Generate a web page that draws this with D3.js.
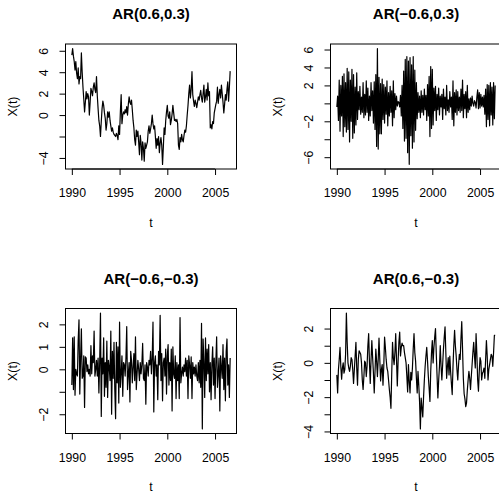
<!DOCTYPE html>
<html>
<head>
<meta charset="utf-8">
<script src="https://cdn.jsdelivr.net/npm/d3@7"></script>
<style>
  body { margin: 0; background: #fff; }
  svg { display: block; font-family: "Liberation Sans", Arial, Helvetica, sans-serif; }
</style>
</head>
<body>
<svg id="chart" width="499" height="493"></svg>
<script>
// monthly series, start Jan 1990
const start_year = 1990
const freq = 12

const titles = ['AR(0.6,0.3)', 'AR(\u22120.6,0.3)', 'AR(\u22120.6,\u22120.3)', 'AR(0.6,\u22120.3)']
const x_ticks = [1990, 1995, 2000, 2005]

// AR(0.6,0.3)
const ar_pos_pos = [
  5.6, 6.2, 5.5, 5.0, 4.2, 5.0, 3.9, 3.4, 4.4, 2.9, 3.6, 3.4,
  5.8, 4.0, 2.6, 1.5, 0.3, 1.2, 2.2, 1.5, 2.0, 1.7, 0.0, 1.2,
  2.5, 2.2, 1.8, 2.6, 3.0, 2.4, 2.1, 3.6, 1.8, 0.6, -0.5, -1.0,
  -2.0, -0.6, 0.6, 1.3, 0.9, 0.2, -0.3, -1.4, -0.8, 0.3, -0.2, 0.3,
  -0.5, -1.0, -1.5, -1.2, -1.6, -1.8, -1.9, -2.0, -1.7, -1.9, -2.3, -1.0,
  -1.8, 0.3, 1.9, -0.8, 0.0, 0.3, 0.1, 0.5, 0.2, 0.8, 0.0, 1.0,
  1.7, 1.2, 1.0, 1.4, 0.5, -0.5, -1.2, -2.3, -2.8, -1.4, -2.0, -1.5,
  -2.5, -3.7, -1.9, -2.6, -4.2, -2.5, -3.1, -4.3, -2.6, -3.1, -2.8, -2.5,
  -1.5, -1.0, -1.7, -1.3, -0.8, 0.0, -0.8, -1.3, -1.0, -2.0, -3.1, -2.2,
  -2.8, -2.0, -3.5, -2.6, -2.1, -2.8, -4.6, -3.0, -1.2, -1.8, -0.5, 0.3,
  0.9, -0.1, -0.3, 0.3, -0.9, -0.5, 0.1, 0.9, 0.2, -0.5, -0.4, -0.6,
  -0.4, -0.8, -2.8, -3.2, -2.1, -2.5, -1.8, -2.3, -2.5, -1.9, -1.4, -1.6,
  -1.0, 0.0, 0.9, 2.0, 2.8, 1.6, 2.4, 4.05, 1.9, 1.3, 0.8, 1.4,
  1.1, 0.7, 1.2, 1.7, 1.4, 1.9, 2.3, 1.6, 1.2, 2.0, 2.8, 1.2,
  1.7, 2.4, 1.4, 3.0, 1.8, 2.2, -1.2, -0.9, -1.3, -0.6, -0.8, 0.2,
  0.6, 1.0, 1.3, 2.6, 1.1, 1.9, 2.4, 1.6, 2.8, 2.0, 1.2, 0.2,
  1.0, 1.9, 1.4, 2.4, 3.1, 1.3, 2.6, 4.1
]

// AR(-0.6,0.3)
const ar_neg_pos = [
  -0.4, 0.8, -1.9, 2.6, -3.1, 2.0, -1.4, 3.0, -3.7, 3.3, -2.6, 2.3,
  -3.2, 3.9, -2.9, 3.5, -4.3, 2.6, -2.0, 3.8, -3.9, 3.2, -3.3, 1.8,
  -2.4, 3.4, -1.8, 1.3, -0.7, 1.9, -1.2, 0.7, -1.0, 2.3, -1.6, 1.0,
  -1.3, 2.5, -1.0, 1.7, -1.9, 0.8, -1.4, 2.3, -0.8, 1.4, -2.2, 2.4,
  -2.9, 3.2, -4.8, 6.1, -5.1, 2.9, -3.4, 2.2, -3.4, 2.7, -1.8, 2.1,
  -2.2, 1.8, -1.2, 2.5, -2.5, 1.2, -1.4, 1.9, -1.0, 1.4, -2.5, 2.5,
  -1.6, 1.1, -0.7, 0.8, -0.3, 0.2, 0.1, -0.4, 0.9, -1.4, 2.0, -2.8,
  3.6, -4.2, 4.9, -3.9, 5.2, -5.5, 4.7, -6.8, 5.1, -3.6, 4.3, -5.0,
  5.2, -4.3, 3.7, -3.0, 2.3, -1.7, 1.2, -1.0, 0.8, -1.6, 1.4, -1.0,
  0.9, -1.3, 1.6, -0.7, 0.9, -1.9, 2.1, -1.4, 3.0, -3.7, 4.1, -2.8,
  3.8, -2.4, 1.7, -0.8, 1.9, -1.9, 1.0, -0.7, 1.7, -1.3, 0.8, -0.4,
  1.0, -1.8, 1.6, -0.6, 0.7, -1.3, 2.0, -0.8, 0.4, -1.0, 1.3, -0.4,
  0.7, -1.8, 2.5, -2.5, 1.2, -1.0, 1.5, -1.3, 1.3, -0.8, 0.7, -1.0,
  1.6, -0.8, 2.6, -1.6, 1.0, -0.6, 1.3, -1.6, 2.0, -1.0, 0.5, -0.7,
  0.6, -0.3, 0.8, 0.0, -0.3, 0.3, 0.1, -0.5, 0.7, 1.5, -0.6, 1.2,
  -0.5, 1.0, -0.3, 0.7, -0.4, 0.9, -1.2, 1.6, -2.6, 2.1, -1.8, 2.0,
  -2.5, 2.3, -1.3, 1.8, -2.4, 2.3, -1.7, 2.0
]

// AR(-0.6,-0.3)
const ar_neg_neg = [
  -0.7, 1.4, -0.9, 1.45, -1.15, 0.0, -0.2, -0.3, 1.3, 2.2, -1.1, 0.5,
  1.8, -0.4, -0.3, 0.6, -1.7, 0.55, 0.5, -0.1, 0.2, -0.2, 0.0, -0.3,
  1.05, -0.2, 0.6, 0.3, 1.7, -0.3, 0.0, 0.4, -0.3, 0.5, -1.05, 0.3,
  2.5, -2.1, 0.5, -0.2, 1.4, -1.2, 0.3, -0.8, 1.25, -1.25, 0.4, 0.1,
  -0.5, 1.7, -2.0, 0.8, -0.4, 1.2, -0.9, -2.2, 1.2, -0.6, 1.0, -1.5,
  2.1, -0.8, -0.2, 0.6, -1.2, 0.3, 0.2, -0.3, 0.5, 1.9, -0.9, -0.2,
  0.3, -1.45, 0.8, 0.4, -0.6, 0.1, 0.7, -0.5, 1.45, -0.9, -0.2, 0.4,
  0.0, -0.5, 0.3, -0.2, 0.2, 1.15, -0.4, -0.5, 0.2, -1.55, 0.3, 0.1,
  -0.3, 0.4, 0.2, 0.8, -0.2, 0.5, 2.1, -1.9, 0.3, 0.6, -0.3, 0.2,
  -1.35, 0.8, 0.2, 2.4, -0.5, 0.7, -1.4, 0.3, 0.5, -0.3, 0.9, -1.1,
  0.6, 1.1, -0.7, 0.3, -0.5, 0.9, -1.85, 1.0, -0.2, -0.4, 0.6, -1.3,
  0.3, -0.5, 0.2, -1.3, 2.3, -0.6, -0.2, 0.1, -0.3, 0.2, -0.1, 0.5,
  -0.3, 0.4, -1.3, 0.6, 0.2, -0.4, 0.55, -1.3, 0.3, -0.2, 0.1, -0.3,
  0.2, -0.3, -0.5, 0.3, -0.6, 0.4, -0.8, 2.05, -2.65, 1.35, 0.3, -1.25,
  1.4, -0.5, 0.9, -0.2, 1.1, -1.0, 0.3, -1.35, 0.2, 1.0, -0.7, 0.5,
  -1.3, 0.3, 1.45, -0.8, -0.2, 0.5, -1.85, 0.6, 0.1, -0.4, 1.1, -0.9,
  0.5, -1.4, 0.8, 1.35, -0.7, 0.2, -1.25, 0.5
]

// AR(0.6,-0.3)
const ar_pos_neg = [
  -0.7, -1.75, -0.4, 0.2, 0.9, -0.2, -0.95, -0.3, 0.0, -0.6, -0.4, 0.5,
  2.9, 1.2, 0.0, -0.3, -0.5, -0.2, 0.3, 0.2, -0.4, -1.2, -0.4, 0.4,
  1.2, -0.3, -1.3, 0.2, 0.7, 0.6, 0.5, 0.0, -1.0, -1.55, -0.8, 0.1,
  0.0, -0.8, -0.2, 1.0, 1.7, 0.0, -1.2, 0.2, 1.3, 0.3, -0.6, -1.75,
  -0.5, 0.8, 0.1, -0.8, 0.2, 1.45, 0.2, -1.05, -0.4, -0.1, -1.3, -0.2,
  1.5, 0.9, 0.2, -0.3, -0.5, -1.0, -1.55, -2.0, -2.65, -0.6, 1.2, 0.3,
  -0.1, 0.6, 1.7, 0.2, -1.35, 0.1, 1.2, 1.8, 0.4, 0.9, 1.15, 1.0,
  1.0, 0.6, 0.3, 0.0, -0.8, -1.7, -0.1, -1.1, -1.75, -0.55, -1.0, -0.3,
  0.8, 1.7, 0.6, 0.1, -0.9, -1.75, -0.5, -1.3, -2.3, -3.85, -2.05, -2.6,
  -3.15, -2.0, -1.0, -0.2, 0.4, 0.9, 0.1, -0.8, -1.5, -2.25, -0.5, 0.6,
  1.3, 0.0, 0.9, 1.5, 2.0, 0.5, -0.8, -2.05, -1.0, -0.2, 1.0, -0.2,
  -1.0, -0.1, 0.8, 1.5, 2.1, 0.6, -0.9, -0.2, 0.3, -0.7, 0.4, -0.5,
  -1.2, -1.85, -0.2, 1.0, 1.9, 1.0, 0.4, -0.4, -1.0, -0.1, 0.5, 0.2,
  1.4, 2.4, 0.8, -0.9, -1.8, -2.1, -2.55, -2.35, -1.6, -1.0, -0.5, -0.9,
  -1.55, -0.8, -0.1, 0.6, 1.2, 0.4, -0.3, 1.7, 0.5, -1.0, -1.65, -0.5,
  0.3, 0.1, -1.0, -0.6, -0.5, -0.3, -0.9, 0.2, 1.3, 0.4, -1.0, -0.4,
  -0.1, 0.2, 0.5, 0.4, -0.2, 0.6, 1.6, 1.6
]

// y ticks per panel, and which of them R kept a label for
const y_ticks = [
  [-4, -2, 0, 2, 4, 6],
  [-6, -4, -2, 0, 2, 4, 6],
  [-2, -1, 0, 1, 2],
  [-4, -3, -2, -1, 0, 1, 2]
]
const y_labels = [
  [-4, 0, 2, 4, 6],
  [-6, -2, 2, 4, 6],
  [-2, 0, 1, 2],
  [-4, -2, 0, 2]
]

const series = [ar_pos_pos, ar_neg_pos, ar_neg_neg, ar_pos_neg]

// layout (2 x 2, like par(mfrow=c(2,2)))
const col_left = [65.5, 330.5]
const row_top = [44, 308.5]
const box_w = 171
const box_h = 125
const tick_len = 6

const fmt = d => (d < 0 ? '\u2212' + Math.abs(d) : String(d))

const svg = d3.select('#chart')

function pad_domain(ext) {
  let d = (ext[1] - ext[0]) * 0.04
  return [ext[0] - d, ext[1] + d]
}

function draw_panel(k) {
  let values = series[k]
  let col = k % 2
  let row = Math.floor(k / 2)
  let g = svg.append('g')
    .attr('transform', `translate(${col_left[col]},${row_top[row]})`)

  let times = values.map((v, i) => start_year + i / freq)
  let x = d3.scaleLinear().domain(pad_domain(d3.extent(times))).range([0, box_w])
  let y = d3.scaleLinear().domain(pad_domain(d3.extent(values))).range([box_h, 0])

  // series line
  let line = d3.line()
    .x((v, i) => x(times[i]))
    .y(v => y(v))
  g.append('path')
    .datum(values)
    .attr('d', line)
    .attr('fill', 'none')
    .attr('stroke', '#000')
    .attr('stroke-width', 1.2)
    .attr('stroke-linejoin', 'round')

  // box
  g.append('rect')
    .attr('width', box_w)
    .attr('height', box_h)
    .attr('fill', 'none')
    .attr('stroke', '#000')
    .attr('stroke-width', 1)

  // x axis
  let x_axis = g.append('g')
    .attr('transform', `translate(0,${box_h})`)
    .call(d3.axisBottom(x).tickValues(x_ticks).tickSize(tick_len).tickFormat(d3.format('d')))
  x_axis.select('.domain').remove()
  x_axis.append('line')
    .attr('x1', x(x_ticks[0])).attr('x2', x(x_ticks[x_ticks.length - 1]))
    .attr('stroke', '#000')
  x_axis.selectAll('text')
    .attr('y', 28)
    .attr('dy', 0)
    .attr('fill', '#000')
    .style('font-size', '12.3px')
    .style('font-family', '"Liberation Sans", Arial, sans-serif')

  // y axis, labels parallel to axis
  let yt = y_ticks[k]
  let yl = y_labels[k]
  let y_axis = g.append('g')
    .call(d3.axisLeft(y).tickValues(yt).tickSize(tick_len)
      .tickFormat(d => (yl.includes(d) ? fmt(d) : '')))
  y_axis.select('.domain').remove()
  y_axis.append('line')
    .attr('y1', y(yt[0])).attr('y2', y(yt[yt.length - 1]))
    .attr('stroke', '#000')
  y_axis.selectAll('text')
    .attr('x', 0)
    .attr('dy', 0)
    .attr('text-anchor', 'middle')
    .attr('transform', 'translate(-17.5,0) rotate(-90)')
    .attr('fill', '#000')
    .style('font-size', '12.3px')
    .style('font-family', '"Liberation Sans", Arial, sans-serif')

  // title
  g.append('text')
    .attr('x', box_w / 2)
    .attr('y', -24.8)
    .attr('text-anchor', 'middle')
    .style('font-size', '15px')
    .style('font-weight', 'bold')
    .text(titles[k])

  // axis titles
  g.append('text')
    .attr('x', box_w / 2)
    .attr('y', box_h + 57.5)
    .attr('text-anchor', 'middle')
    .style('font-size', '12.3px')
    .text('t')

  g.append('text')
    .attr('transform', `translate(-48.9,${box_h / 2}) rotate(-90)`)
    .attr('text-anchor', 'middle')
    .style('font-size', '12.3px')
    .text('X(t)')
}

for (let k = 0; k < series.length; k++) {
  draw_panel(k)
}
</script>
</body>
</html>
